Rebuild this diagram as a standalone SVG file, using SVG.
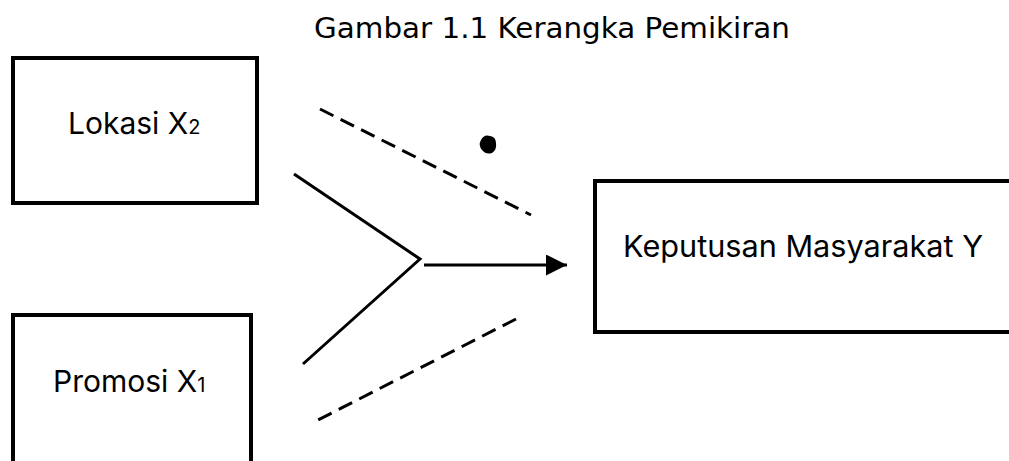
<svg xmlns="http://www.w3.org/2000/svg" width="1009" height="461" viewBox="0 0 1009 461">
<style>
.box{fill:#fff;stroke:#000;stroke-width:4}
.t{font-family:Inter,"Liberation Sans",sans-serif;font-size:30px;fill:#000}
.ln{stroke:#000;stroke-width:3;fill:none}
.dash{stroke:#000;stroke-width:3;fill:none;stroke-dasharray:15 8}
</style>
<defs>
<marker id="ah" viewBox="0 0 10 10" refX="10" refY="5" markerWidth="7" markerHeight="7" markerUnits="strokeWidth" orient="auto">
<path d="M0,0 L10,5 L0,10 Z" fill="#000"/>
</marker>
</defs>
<rect width="1009" height="461" fill="#fff"/>
<text x="314" y="38" font-family="'DejaVu Sans','Liberation Sans',sans-serif" font-size="29" textLength="476" lengthAdjust="spacingAndGlyphs">Gambar 1.1 Kerangka Pemikiran</text>
<g id="lokasi">
<rect class="box" x="13" y="58" width="244" height="145"/>
<text class="t" x="68" y="134">Lokasi X<tspan font-size="20">2</tspan></text>
</g>
<g id="promosi">
<rect class="box" x="13" y="315" width="238" height="160"/>
<text class="t" x="53" y="392">Promosi X<tspan font-size="20">1</tspan></text>
</g>
<g id="keputusan">
<rect class="box" x="595" y="181" width="430" height="151"/>
<text class="t" x="623" y="257" textLength="360" lengthAdjust="spacingAndGlyphs">Keputusan Masyarakat Y</text>
</g>
<g id="connectors">
<line class="dash" x1="320" y1="109" x2="531" y2="215"/>
<line class="dash" x1="516" y1="319" x2="316" y2="421"/>
<polyline class="ln" points="294,174 420,259 303,364"/>
<line class="ln" x1="424" y1="265" x2="567" y2="265" marker-end="url(#ah)"/>
<path d="M481,140 Q484,134 490,136 Q496,137 496,143 Q497,150 492,153 Q486,155 482,150 Q478,145 481,140 Z" fill="#000"/>
</g>
</svg>
